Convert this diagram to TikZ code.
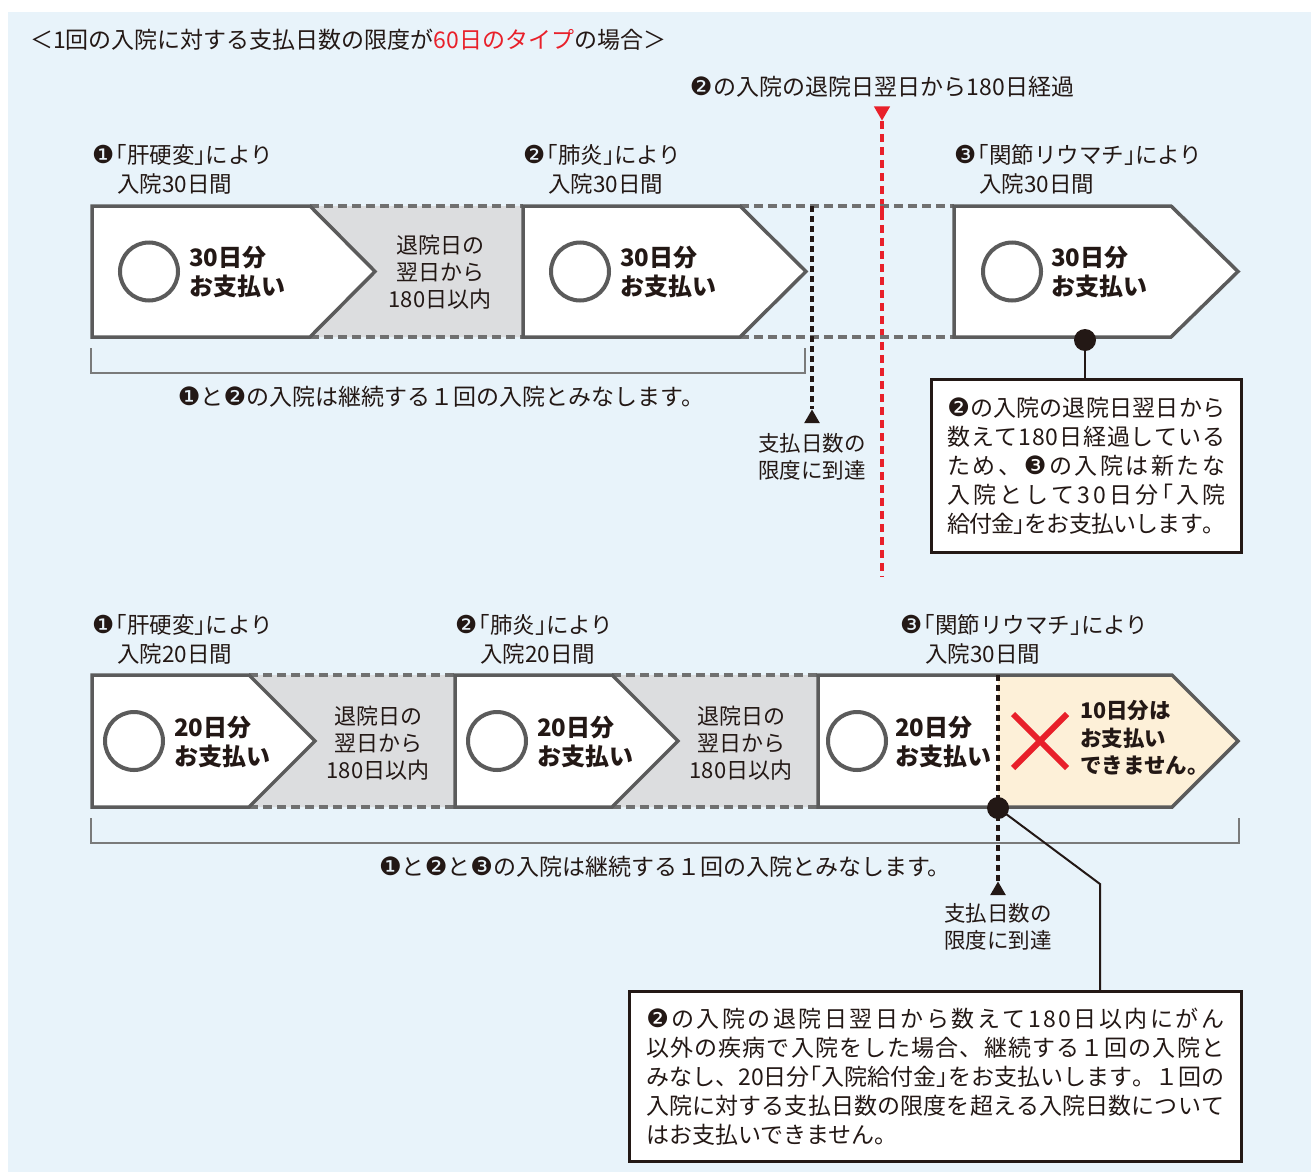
\documentclass[tikz,border=0pt]{standalone}
\usepackage{fontspec}
\setmainfont{Noto Sans CJK JP}
\newfontfamily\dingf{DejaVu Sans}[Scale=1.1]
\newcommand\cn[1]{{\dingf #1}\kern1.5pt}
\newcommand\cnt[1]{{\dingf #1}}
\newcommand\hwf{\addfontfeature{CharacterWidth=AlternateHalf}}
\usetikzlibrary{shapes.geometric}
\definecolor{bgblue}{HTML}{E8F3FA}
\definecolor{ink}{HTML}{231815}
\definecolor{boxgray}{HTML}{5B5B5B}
\definecolor{dashgray}{HTML}{707070}
\definecolor{fillgray}{HTML}{DCDDDF}
\definecolor{cream}{HTML}{FDF0D8}
\definecolor{redc}{HTML}{E8202A}
\definecolor{brgray}{HTML}{7A7A7A}
\makeatletter
\newcommand\spreadline[2]{\makebox[#1][s]{\let\sp@first\relax\@tfor\sp@c:=#2\do{\sp@first{\sp@c}\def\sp@first{\hskip 0pt plus 1fil minus 2.5pt}}}}
\makeatother
\tikzset{
  boxline/.style={draw=boxgray, line width=3.5pt, line join=miter},
  gdash/.style={draw=dashgray, line width=4pt, dash pattern=on 9pt off 5pt},
  bdot/.style={draw=ink, line width=3.5pt, dash pattern=on 6pt off 4pt},
  rdash/.style={draw=redc, line width=3.5pt, dash pattern=on 8pt off 5pt},
  ring/.style={draw=boxgray, line width=4pt},
  bracket/.style={draw=brgray, line width=2pt},
  txt/.style={inner sep=0pt, text=ink},
  lab/.style={txt, anchor=west, font=\fontsize{22.5}{29}\selectfont},
  bigt/.style={txt, anchor=west, align=left, font=\bfseries\fontsize{24}{29}\selectfont},
  gtext/.style={txt, align=center, font=\fontsize{22}{27}\selectfont},
  notebox/.style={draw=ink, line width=2.5pt, fill=white, inner sep=0pt, align=left, text=ink, font=\fontsize{23}{29}\selectfont},
  dotn/.style={circle, fill=ink, inner sep=0pt, minimum size=22pt},
  tri/.style={regular polygon, regular polygon sides=3, inner sep=0pt, minimum size=18pt},
  conn/.style={draw=ink, line width=2pt}
}
\begin{document}
\begin{tikzpicture}[x=1pt,y=-1pt]
\useasboundingbox (0,0) rectangle (1311,1172);
\fill[white] (0,0) rectangle (1311,1172);
\fill[bgblue] (8,12) rectangle (1311,1172);

% title
\node[lab, font=\fontsize{23}{29}\selectfont] (title) at (30,40) {＜1回の入院に対する支払日数の限度が\textcolor{redc}{60日のタイプ}の場合＞};

% red line
\node[lab, anchor=center, font=\fontsize{23}{29}\selectfont] (redlab) at (882,87) {\cn{❷}の入院の退院日翌日から180日経過};
\node[tri, fill=redc, shape border rotate=180, minimum size=19pt] (rtri) at (882,111) {};
\draw[rdash] (rtri.south) -- (882,576);

% ===== Row 1 =====
\fill[fillgray] (310,206) -- (523,206) -- (523,337) -- (310,337) -- (375,271.5) -- cycle;
\draw[gdash] (310,206) -- (523,206) (310,337) -- (523,337);
\draw[gdash] (740,206) -- (954,206) (740,337) -- (954,337);
\draw[boxline, fill=white] (92,206) -- (310,206) -- (375,271.5) -- (310,337) -- (92,337) -- cycle;
\draw[boxline, fill=white] (523,206) -- (740,206) -- (806,271.5) -- (740,337) -- (523,337) -- cycle;
\draw[boxline, fill=white] (954,206) -- (1171,206) -- (1238,271.5) -- (1171,337) -- (954,337) -- cycle;
\draw[rdash] (882,206) -- (882,212);

\draw[ring] (149,271.5) circle[radius=29pt];
\draw[ring] (580,271.5) circle[radius=29pt];
\draw[ring] (1012,271.5) circle[radius=29pt];
\node[bigt] (t11) at (189,272) {30日分\\お支払い};
\node[bigt] (t12) at (620,272) {30日分\\お支払い};
\node[bigt] (t13) at (1051,272) {30日分\\お支払い};
\node[gtext] (g11) at (440,272) {退院日の\\翌日から\\180日以内};

\node[lab] (l11a) at (92,155) {\cn{❶}{\hwf 「}肝硬変{\hwf 」}により};
\node[lab] (l11b) at (117,184) {入院30日間};
\node[lab] (l12a) at (523,155) {\cn{❷}{\hwf 「}肺炎{\hwf 」}により};
\node[lab] (l12b) at (548,184) {入院30日間};
\node[lab] (l13a) at (954,155) {\cn{❸}{\hwf 「}関節リウマチ{\hwf 」}により};
\node[lab] (l13b) at (979,184) {入院30日間};

\draw[bracket] (91,348) -- (91,373) -- (805,373) -- (805,348);
\node[lab, anchor=center, font=\fontsize{23}{29}\selectfont] (br1) at (441,397) {\cnt{❶}と\cnt{❷}の入院は継続する１回の入院とみなします。};

\node[tri, fill=ink] (btri1) at (812,418.5) {};
\draw[bdot] (812,206) -- (btri1.north);
\node[gtext, font=\fontsize{21.5}{27}\selectfont] (lim1) at (812,457) {支払日数の\\限度に到達};

\node[notebox, minimum width=310pt, minimum height=173pt, anchor=north west] (n1) at (930,378) {%
\spreadline{278pt}{{\cnt{❷}}の入院の退院日翌日から}\\
\spreadline{278pt}{数えて180日経過している}\\
\spreadline{278pt}{ため、{\cnt{❸}}の入院は新たな}\\
\spreadline{278pt}{入院として30日分{\hwf 「}入院}\\
\spreadline{278pt}{給付金{\hwf 」}をお支払いします。}};
\node[dotn] (d1) at (1085,340) {};
\draw[conn] (d1.center) -- (d1.center |- n1.north);

% ===== Row 2 =====
\fill[fillgray] (249,675) -- (455,675) -- (455,807) -- (249,807) -- (315,741) -- cycle;
\fill[fillgray] (612,675) -- (818,675) -- (818,807) -- (612,807) -- (678,741) -- cycle;
\draw[gdash] (249,675) -- (455,675) (249,807) -- (455,807);
\draw[gdash] (612,675) -- (818,675) (612,807) -- (818,807);
\draw[boxline, fill=white] (92,675) -- (249,675) -- (315,741) -- (249,807) -- (92,807) -- cycle;
\draw[boxline, fill=white] (455,675) -- (612,675) -- (678,741) -- (612,807) -- (455,807) -- cycle;
\fill[white] (818,675) rectangle (998,807);
\fill[cream] (998,675) -- (1172,675) -- (1238,741) -- (1172,807) -- (998,807) -- cycle;
\draw[boxline] (818,675) -- (1172,675) -- (1238,741) -- (1172,807) -- (818,807) -- cycle;

\draw[ring] (134,741) circle[radius=29pt];
\draw[ring] (497,741) circle[radius=29pt];
\draw[ring] (857,741) circle[radius=29pt];
\node[bigt] (t21) at (174,742) {20日分\\お支払い};
\node[bigt] (t22) at (537,742) {20日分\\お支払い};
\node[bigt] (t23) at (895,742) {20日分\\お支払い};
\node[gtext] (g21) at (378,743) {退院日の\\翌日から\\180日以内};
\node[gtext] (g22) at (741,743) {退院日の\\翌日から\\180日以内};

\draw[redc, line width=6pt] (1013,714) -- (1067,768) (1013,768) -- (1067,714);
\node[bigt, font=\bfseries\fontsize{21.5}{27.5}\selectfont] (t24) at (1080,738) {10日分は\\お支払い\\できません。};

\node[lab] (l21a) at (92,625) {\cn{❶}{\hwf 「}肝硬変{\hwf 」}により};
\node[lab] (l21b) at (117,654) {入院20日間};
\node[lab] (l22a) at (455,625) {\cn{❷}{\hwf 「}肺炎{\hwf 」}により};
\node[lab] (l22b) at (480,654) {入院20日間};
\node[lab] (l23a) at (900,625) {\cn{❸}{\hwf 「}関節リウマチ{\hwf 」}により};
\node[lab] (l23b) at (925,654) {入院30日間};

\draw[bracket] (91,818) -- (91,843) -- (1239,843) -- (1239,818);
\node[lab, anchor=center, font=\fontsize{23}{29}\selectfont] (br2) at (665,867) {\cnt{❶}と\cnt{❷}と\cnt{❸}の入院は継続する１回の入院とみなします。};

\node[tri, fill=ink] (btri2) at (998,890.5) {};
\draw[bdot] (998,675) -- (btri2.north);
\node[gtext, font=\fontsize{21.5}{27}\selectfont] (lim2) at (998,927) {支払日数の\\限度に到達};

\node[notebox, minimum width=612pt, minimum height=170pt, anchor=north west] (n2) at (628,990) {%
\spreadline{578pt}{{\cnt{❷}}の入院の退院日翌日から数えて180日以内にがん}\\
\spreadline{578pt}{以外の疾病で入院をした場合、継続する１回の入院と}\\
\spreadline{578pt}{みなし、20日分{\hwf 「}入院給付金{\hwf 」}をお支払いします。１回の}\\
\spreadline{578pt}{入院に対する支払日数の限度を超える入院日数について}\\
はお支払いできません。};
\node[dotn] (d2) at (998,808) {};
\coordinate (bend) at (1100,884);
\draw[conn] (d2.center) -- (bend) -- (bend |- n2.north);
\end{tikzpicture}
\end{document}
